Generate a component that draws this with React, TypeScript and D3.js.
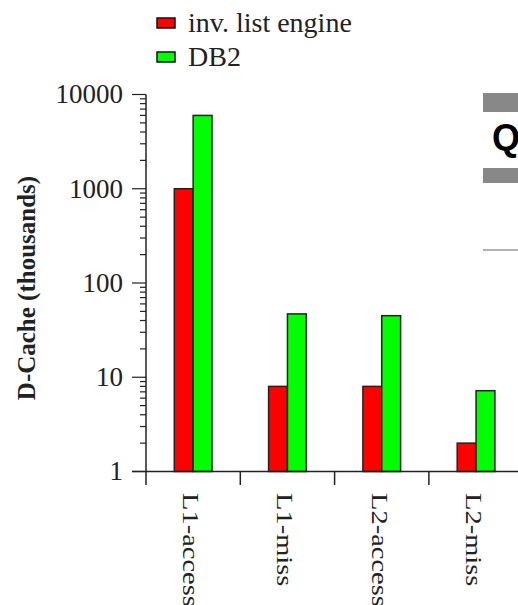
import React from "react";
import * as d3 from "d3";

const categories = ["L1-access", "L1-miss", "L2-access", "L2-miss"];
const seriesNames = ["inv. list engine", "DB2"];
const invListValues = [1000, 8, 8, 2];
const db2Values = [6000, 47, 45, 7.2];
const seriesColors = ["#ff0000", "#00ff00"];
const yTickLabels = ["1", "10", "100", "1000", "10000"];

const width = 518;
const height = 605;
const axisX = 146;
const axisY = 471.5;
const topY = 94.5;
const step = 94.3;

export default function App() {
  const x = d3.scaleBand<string>()
    .domain(categories)
    .range([axisX, axisX + step * categories.length])
    .padding(0);

  const x1 = d3.scaleBand<string>()
    .domain(seriesNames)
    .range([0, x.bandwidth() * 0.4]);

  const y = d3.scaleLog().domain([1, 10000]).range([axisY, topY]);

  const values = [invListValues, db2Values];
  const ticks = y.ticks();
  const serif = "'Liberation Serif', 'Times New Roman', serif";

  return (
    <svg
      width={width}
      height={height}
      style={{ position: "absolute", left: 0, top: 0, background: "#fff" }}
    >
      {/* legend */}
      {seriesNames.map((s, i) => (
        <g key={s} transform={`translate(157,${18 + i * 34})`}>
          <rect width={18} height={10} fill={seriesColors[i]} stroke="#111" strokeWidth={1.5} />
          <text x={31} y={13.5} fontFamily={serif} fontSize={28} fill="#222">{s}</text>
        </g>
      ))}

      {/* bars */}
      {categories.map((c, ci) => (
        <g key={c} transform={`translate(${x(c)! + x.bandwidth() * 0.3},0)`}>
          {seriesNames.map((s, si) => (
            <rect
              key={s}
              x={x1(s)}
              y={y(values[si][ci])}
              width={x1.bandwidth()}
              height={axisY - y(values[si][ci])}
              fill={seriesColors[si]}
              stroke="#222"
              strokeWidth={1.5}
            />
          ))}
        </g>
      ))}

      {/* y axis */}
      <line x1={axisX} x2={axisX} y1={topY} y2={485} stroke="#222" strokeWidth={1.5} />
      {ticks.map((t) => {
        const major = Number.isInteger(Math.log10(t));
        return (
          <line
            key={t}
            x1={axisX - (major ? 14 : 6)}
            x2={axisX}
            y1={y(t)}
            y2={y(t)}
            stroke="#222"
            strokeWidth={1.2}
          />
        );
      })}
      {yTickLabels.map((l) => (
        <text
          key={l}
          x={123}
          y={y(+l)}
          dy="0.33em"
          textAnchor="end"
          fontFamily={serif}
          fontSize={27}
          fill="#222"
        >
          {l}
        </text>
      ))}
      <text
        transform={`translate(26,${(topY + axisY) / 2 + 5}) rotate(-90)`}
        textAnchor="middle"
        dy="0.35em"
        fontFamily={serif}
        fontWeight="bold"
        fontSize={25}
        fill="#222"
      >
        D-Cache (thousands)
      </text>

      {/* x axis */}
      <line x1={132} x2={width} y1={axisY} y2={axisY} stroke="#222" strokeWidth={1.5} />
      {categories.slice(1).map((c) => (
        <line key={c} x1={x(c)} x2={x(c)} y1={axisY} y2={485} stroke="#222" strokeWidth={1.5} />
      ))}
      {categories.map((c) => (
        <text
          key={c}
          transform={`translate(${x(c)! + x.bandwidth() / 2 - 2},493) rotate(90) scale(1,0.8)`}
          dy="0.35em"
          fontFamily={serif}
          fontSize={28.5}
          fill="#222"
        >
          {c}
        </text>
      ))}

      {/* clipped neighbouring slide content */}
      <rect x={483} y={93} width={40} height={19} fill="#888" />
      <text x={492} y={150} fontFamily="'Liberation Sans', Arial, sans-serif" fontWeight="bold" fontSize={36} fill="#000">Q</text>
      <rect x={483} y={168} width={40} height={15} fill="#888" />
      <line x1={483} x2={width} y1={250} y2={250} stroke="#999" strokeWidth={1.5} />
    </svg>
  );
}
